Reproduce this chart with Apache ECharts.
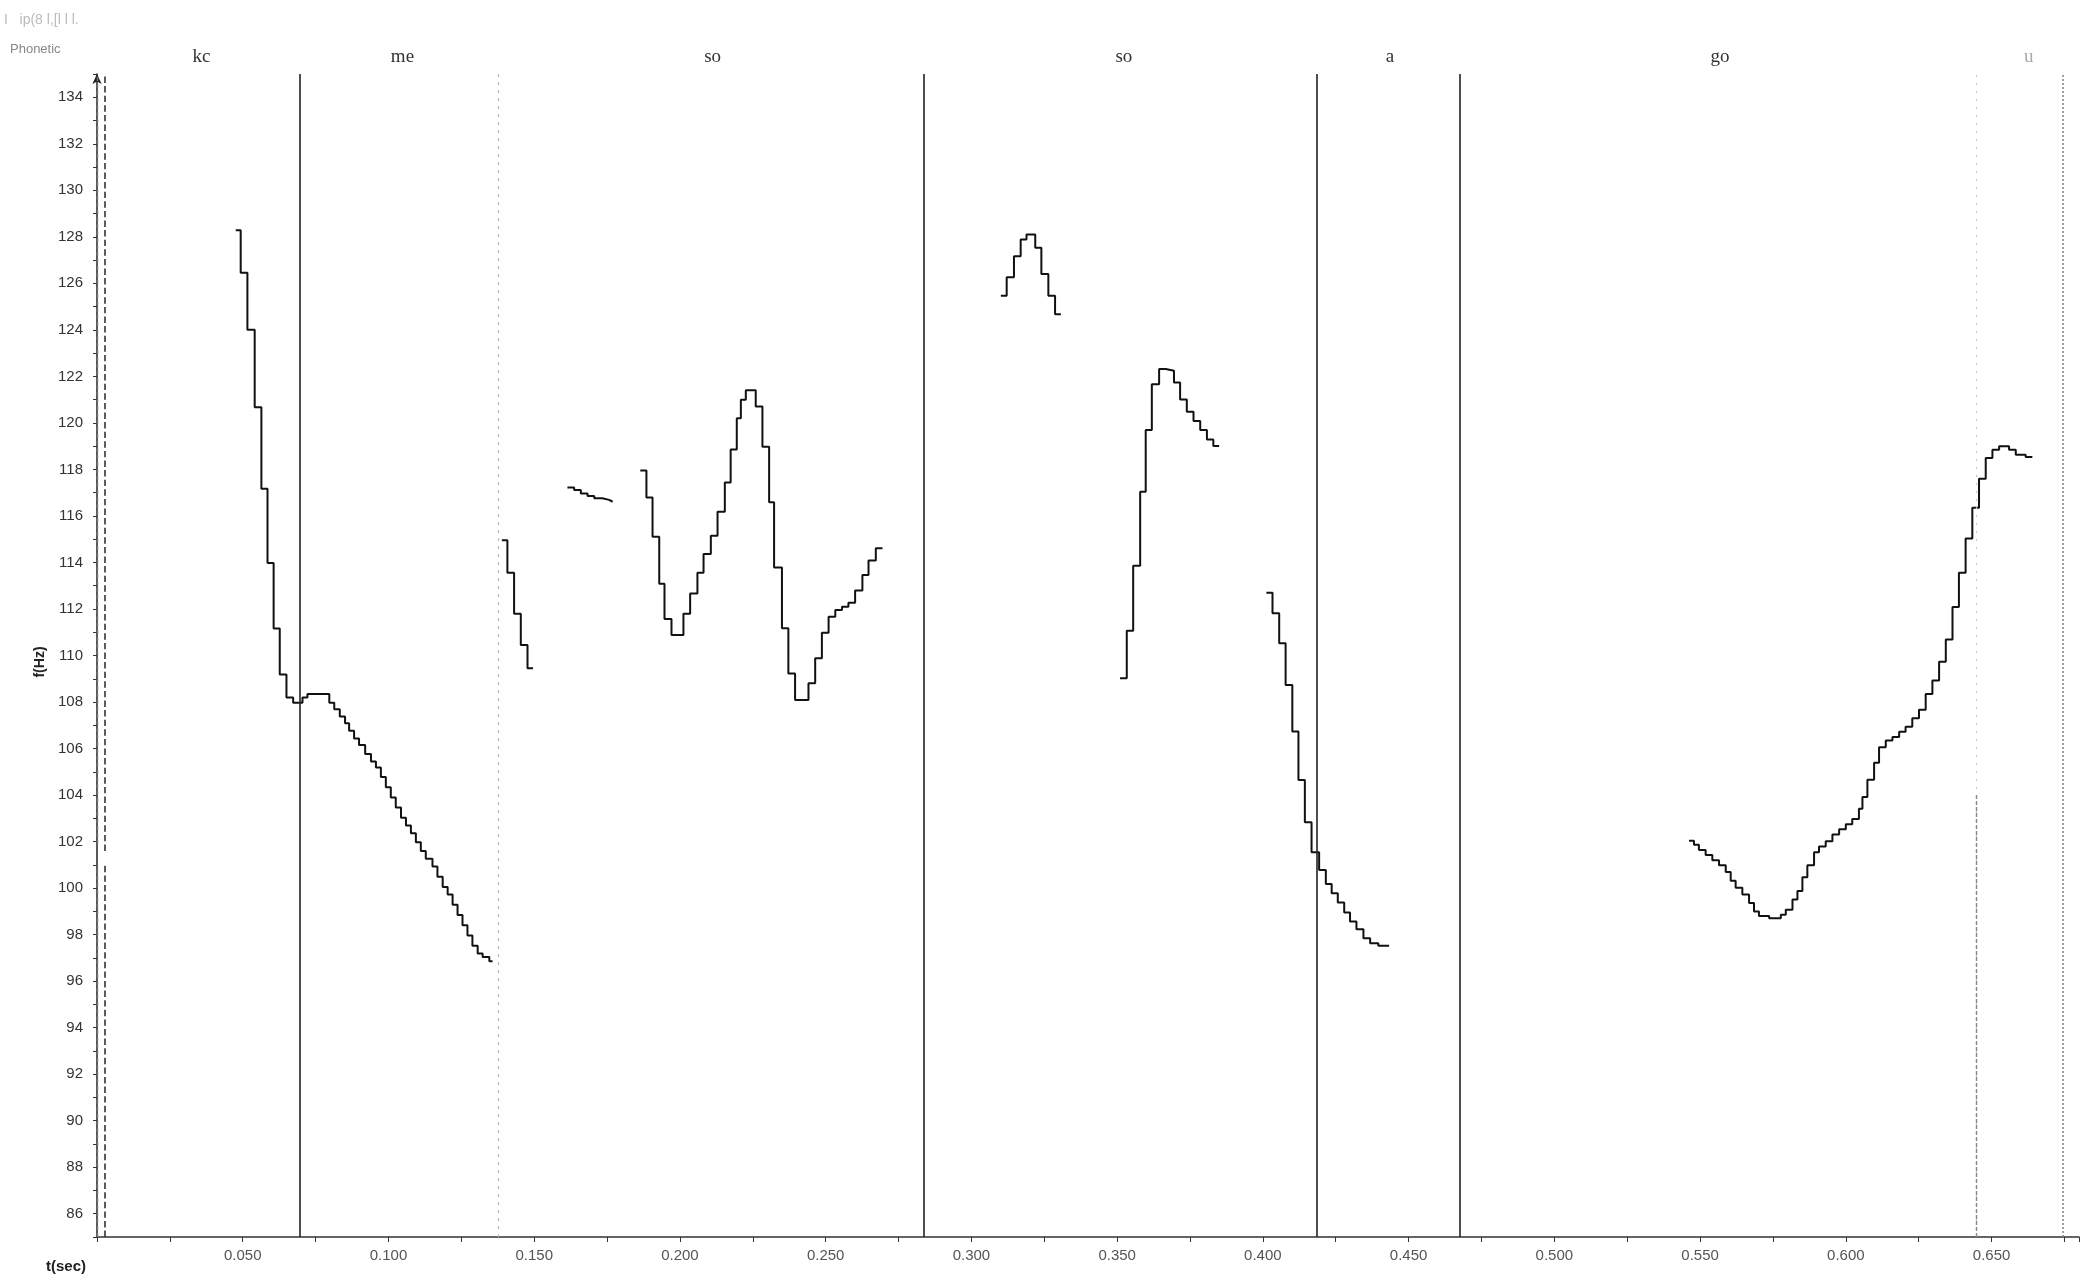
<!DOCTYPE html>
<html><head><meta charset="utf-8">
<script src="https://cdn.jsdelivr.net/npm/echarts@6/dist/echarts.min.js"></script>
<style>html,body{margin:0;padding:0;background:#fff}#c{width:2087px;height:1279px}</style>
</head><body><div id="c"></div>
<script>
// ---------- data (time in s, f0 in Hz) ----------
const kcT = [0.0476,0.0493,0.0516,0.0541,0.0564,0.0585,0.0606,0.0627,0.0650,0.0673,0.0705,0.0722,0.0797,0.0814,0.0833,0.0851,0.0865,0.0882,0.0899,0.0920,0.0940,0.0957,0.0974,0.0991,0.1008,0.1025,0.1043,0.1060,0.1077,0.1094,0.1111,0.1128,0.1151,0.1168,0.1186,0.1203,0.1220,0.1237,0.1254,0.1271,0.1288,0.1306,0.1323,0.1346,0.1357];
const kcF = [128.28,126.45,124.00,120.67,117.17,113.98,111.16,109.18,108.19,107.97,108.19,108.35,107.97,107.69,107.38,107.09,106.76,106.43,106.15,105.77,105.44,105.18,104.78,104.34,103.90,103.46,103.02,102.69,102.36,101.97,101.59,101.26,100.93,100.49,100.05,99.72,99.28,98.84,98.40,97.96,97.52,97.19,97.04,96.86,96.86];
const me1T = [0.1389,0.1408,0.1431,0.1454,0.1477,0.1496];
const me1F = [114.96,113.56,111.79,110.45,109.45,109.45];
const me2T = [0.1614,0.1637,0.1660,0.1683,0.1706,0.1734,0.1757,0.1769];
const me2F = [117.22,117.11,116.97,116.86,116.76,116.69,116.61,116.61];
const so1T = [0.1864,0.1885,0.1906,0.1929,0.1947,0.1971,0.2012,0.2035,0.2060,0.2081,0.2106,0.2129,0.2154,0.2174,0.2195,0.2209,0.2226,0.2260,0.2283,0.2306,0.2323,0.2350,0.2372,0.2395,0.2441,0.2464,0.2487,0.2510,0.2533,0.2556,0.2578,0.2601,0.2626,0.2647,0.2672,0.2695];
const so1F = [117.95,116.79,115.11,113.08,111.57,110.88,111.79,112.67,113.56,114.36,115.15,116.18,117.44,118.86,120.2,121.0,121.4,120.7,118.98,116.59,113.78,111.17,109.23,108.09,108.81,109.88,110.98,111.67,111.96,112.10,112.27,112.79,113.46,114.08,114.61,114.61];
const so2aT = [0.3101,0.3121,0.3146,0.3169,0.3189,0.3219,0.3240,0.3264,0.3287,0.3307];
const so2aF = [125.47,126.26,127.17,127.89,128.10,127.53,126.40,125.47,124.67,124.67];
const so2bT = [0.3510,0.3533,0.3555,0.3579,0.3598,0.3619,0.3644,0.3667,0.3695,0.3716,0.3739,0.3762,0.3785,0.3808,0.3830,0.3850];
const so2bF = [109.02,111.06,113.86,117.04,119.69,121.66,122.32,122.24,121.74,121.01,120.48,120.08,119.69,119.29,119.01,119.01];
const aT = [0.4012,0.4033,0.4056,0.4078,0.4101,0.4122,0.4144,0.4167,0.4193,0.4216,0.4236,0.4257,0.4279,0.4299,0.4321,0.4345,0.4368,0.4396,0.4433];
const aF = [112.70,111.82,110.53,108.73,106.73,104.65,102.83,101.54,100.78,100.18,99.78,99.38,98.95,98.56,98.23,97.84,97.63,97.52,97.52];
const goT = [0.5462,0.5479,0.5496,0.5519,0.5542,0.5565,0.5588,0.5605,0.5622,0.5645,0.5668,0.5685,0.5702,0.5737,0.5777,0.5794,0.5817,0.5834,0.5851,0.5868,0.5891,0.5908,0.5931,0.5954,0.5977,0.6000,0.6022,0.6045,0.6057,0.6074,0.6097,0.6114,0.6137,0.6160,0.6183,0.6205,0.6228,0.6251,0.6274,0.6297,0.6320,0.6343,0.6366,0.6388,0.6411,0.6434,0.6457,0.6480,0.6503,0.6526,0.6560,0.6583,0.6617,0.6640];
const goF = [102.04,101.86,101.64,101.42,101.20,100.98,100.69,100.32,100.02,99.73,99.36,98.99,98.80,98.70,98.85,99.07,99.51,99.88,100.47,100.98,101.54,101.79,102.01,102.30,102.53,102.75,102.97,103.41,103.92,104.66,105.39,106.06,106.35,106.50,106.72,106.94,107.30,107.67,108.34,108.92,109.73,110.69,112.09,113.56,115.03,116.35,117.60,118.49,118.85,119.00,118.85,118.63,118.53,118.53];

const boundaryT = [0.0696, 0.2838, 0.4185, 0.4674];   // solid segment boundaries
const faintT = [0.1377, 0.6449, 0.6745];               // faint boundaries
const phonLabels = ['kc','me','so','so','a','go','u'];
const phonT = [0.0358, 0.1048, 0.2112, 0.3523, 0.4436, 0.5568, 0.6628];
const yMin = 85, yMax = 135, xMin = 0, xMax = 0.68;

// ---------- chart ----------
const zip = (T, F) => T.map((t, i) => [t, F[i]]);
const segs = [[kcT,kcF],[me1T,me1F],[me2T,me2F],[so1T,so1F],[so2aT,so2aF],[so2bT,so2bF],[aT,aF],[goT,goF]];
const chart = echarts.init(document.getElementById('c'), null, {renderer: 'canvas'});
const series = segs.map(([T, F]) => ({
  type: 'line', step: 'end', data: zip(T, F), symbol: 'none', silent: true,
  lineStyle: {color: '#111', width: 2}, animation: false
}));
const solidLines = boundaryT.map(t => ({xAxis: t, lineStyle: {color: '#222', width: 1.6, type: 'solid'}}));
const faintLines = [
  {xAxis: faintT[0], lineStyle: {color: '#bbb', width: 1.2, type: [3, 5]}},
  {xAxis: faintT[1], lineStyle: {color: '#c4c4c4', width: 1.2, type: [2, 6]}},
  [{coord: [faintT[1], yMin], lineStyle: {color: '#888', width: 1.4, type: [4, 2]}}, {coord: [faintT[1], 104]}],
  {xAxis: faintT[2], lineStyle: {color: '#888', width: 1.6, type: [2, 2]}}
];
const axisLines = [
  [{coord: [0, yMin], lineStyle: {color: '#777', width: 1.4, type: [4, 3]}}, {coord: [0, 101.0]}],
  [{coord: [0, 101.9], lineStyle: {color: '#777', width: 1.4, type: [4, 3]}}, {coord: [0, yMax]}],
  [{coord: [0.0028, yMin], lineStyle: {color: '#333', width: 1.6}}, {coord: [0.0028, 101.1]}],
  [{coord: [0.0028, 101.6], lineStyle: {color: '#333', width: 1.6}}, {coord: [0.0028, yMax]}]
];
series.push({
  type: 'line', data: [], silent: true, animation: false,
  markLine: {symbol: ['none', 'none'], silent: true, animation: false, precision: 6, label: {show: false},
    data: solidLines.concat(faintLines, axisLines)}
});

chart.setOption({
  animation: false,
  backgroundColor: '#fff',
  grid: {left: 97, right: 8, top: 74, bottom: 42},
  xAxis: {
    type: 'value', min: xMin, max: xMax, interval: 0.025,
    axisLine: {lineStyle: {color: '#333', width: 1.5}},
    axisTick: {length: 5, lineStyle: {color: '#333'}},
    splitLine: {show: false},
    axisLabel: {margin: 11, fontSize: 15, color: '#555', fontFamily: 'Liberation Sans',
      formatter: v => { const m = Math.round(v * 1000); return (m > 0 && m % 50 === 0) ? (m / 1000).toFixed(3) : ''; }}
  },
  yAxis: {
    type: 'value', min: yMin, max: yMax, interval: 1, offset: 8,
    axisLine: {show: true, symbol: ['none', 'arrow'], symbolSize: [7, 10], lineStyle: {color: '#222', width: 1.5}},
    axisTick: {length: 4, lineStyle: {color: '#333'}},
    splitLine: {show: false},
    axisLabel: {margin: 6, fontSize: 15, color: '#333', fontFamily: 'Liberation Sans',
      formatter: v => (v % 2 === 0 ? String(v) : '')}
  },
  series: series
});

const gfx = phonLabels.map((s, i) => {
  const p = chart.convertToPixel({gridIndex: 0}, [phonT[i], yMax]);
  return {type: 'text', x: p[0], y: 57, silent: true,
    style: {text: s, fontFamily: 'Liberation Serif', fontSize: 19, fill: i === 6 ? '#aaa' : '#333',
      textAlign: 'center', textVerticalAlign: 'middle'}};
});
gfx.push(
  {type: 'text', x: 10, y: 49, style: {text: 'Phonetic', fontFamily: 'Liberation Sans', fontSize: 13, fill: '#888', textVerticalAlign: 'middle'}},
  {type: 'text', x: 4, y: 20, style: {text: 'I   ip(8 l,[l l l.', fontFamily: 'Liberation Sans', fontSize: 14, fill: '#bbb', textVerticalAlign: 'middle'}},
  {type: 'text', x: 40, y: 662, rotation: Math.PI / 2, style: {text: 'f(Hz)', fontFamily: 'Liberation Sans', fontSize: 14, fontWeight: 'bold', fill: '#222', textAlign: 'center', textVerticalAlign: 'middle'}},
  {type: 'text', x: 66, y: 1267, style: {text: 't(sec)', fontFamily: 'Liberation Sans', fontSize: 15, fontWeight: 'bold', fill: '#222', textAlign: 'center', textVerticalAlign: 'middle'}}
);
chart.setOption({graphic: gfx});
</script></body></html>
